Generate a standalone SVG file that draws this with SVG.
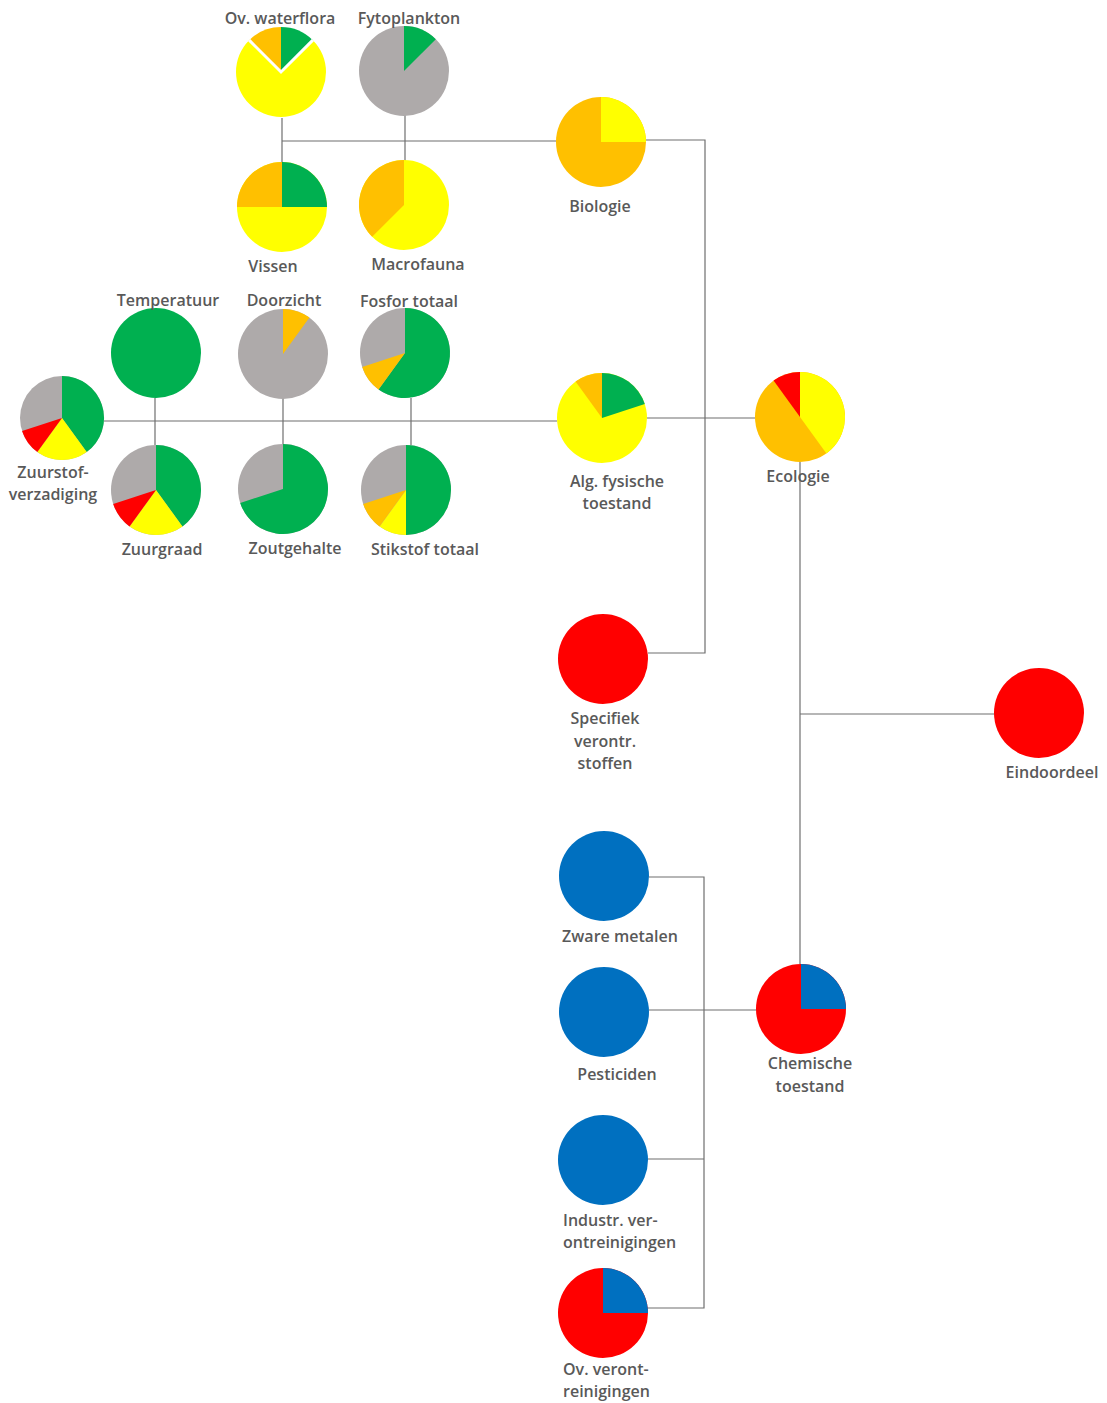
<svg xmlns="http://www.w3.org/2000/svg" width="1107" height="1403" viewBox="0 0 1107 1403">
  <style>
    .lbl { font-family: "Open Sans", "Liberation Sans", sans-serif; font-weight: 600; font-size: 16px; fill: #595959; text-anchor: middle; }
    .left { text-anchor: start; }
    .conn { fill: none; stroke: #6f6f6f; stroke-width: 1.2; }
    .g { fill: #00B050; }
    .y { fill: #FFFF00; }
    .o { fill: #FFC000; }
    .r { fill: #FF0000; }
    .gr { fill: #AEAAAA; }
    .b { fill: #0070C0; }
  </style>
  <rect width="1107" height="1403" fill="#ffffff"/>

  <!-- connectors, drawn under the pies -->
  <g id="connectors" class="conn">
    <path d="M282,118 V162"/>
    <path d="M405,115 V161"/>
    <path d="M282,141 H556"/>
    <path d="M646,140 H705 V653 H648"/>
    <path d="M104,421 H557"/>
    <path d="M155,398 V445"/>
    <path d="M283,398 V445"/>
    <path d="M411,398 V445"/>
    <path d="M647,418 H755"/>
    <path d="M800,462 V964"/>
    <path d="M800,714 H995"/>
    <path d="M649,877 H704 V1308 H647"/>
    <path d="M649,1010 H757"/>
    <path d="M647,1159 H704"/>
  </g>

  <!-- biology -->
  <g id="ov-waterflora">
    <path class="y" d="M281,72 L312.82,40.18 A45,45 0 1 1 249.18,40.18 Z"/>
    <path class="g" d="M281,72 L281,27 A45,45 0 0 1 312.82,40.18 Z"/>
    <path class="o" d="M281,72 L249.18,40.18 A45,45 0 0 1 281,27 Z"/>
    <polyline points="249.18,40.18 281,72 312.82,40.18" fill="none" stroke="#ffffff" stroke-width="3"/>
    <text class="lbl" x="280" y="24">Ov. waterflora</text>
  </g>
  <g id="fytoplankton">
    <circle class="gr" cx="404" cy="71" r="45"/>
    <path class="g" d="M404,71 L404,26 A45,45 0 0 1 435.82,39.18 Z"/>
    <text class="lbl" x="409" y="24">Fytoplankton</text>
  </g>
  <g id="vissen">
    <circle class="y" cx="282" cy="207" r="45"/>
    <path class="g" d="M282,207 L282,162 A45,45 0 0 1 327,207 Z"/>
    <path class="o" d="M282,207 L237,207 A45,45 0 0 1 282,162 Z"/>
    <text class="lbl" x="273" y="272">Vissen</text>
  </g>
  <g id="macrofauna">
    <circle class="y" cx="404" cy="205" r="45"/>
    <path class="o" d="M404,205 L372.18,236.82 A45,45 0 0 1 404,160 Z"/>
    <text class="lbl" x="418" y="270">Macrofauna</text>
  </g>
  <g id="biologie">
    <circle class="o" cx="601" cy="142" r="45"/>
    <path class="y" d="M601,142 L601,97 A45,45 0 0 1 646,142 Z"/>
    <text class="lbl" x="600" y="212">Biologie</text>
  </g>

  <!-- physical-chemical quality -->
  <g id="zuurstofverzadiging">
    <circle class="gr" cx="62" cy="418" r="42"/>
    <path class="g" d="M62,418 L62,376 A42,42 0 0 1 86.69,451.98 Z"/>
    <path class="y" d="M62,418 L86.69,451.98 A42,42 0 0 1 37.31,451.98 Z"/>
    <path class="r" d="M62,418 L37.31,451.98 A42,42 0 0 1 22.05,430.98 Z"/>
    <text class="lbl" x="53" y="478">Zuurstof-</text>
    <text class="lbl" x="53" y="500">verzadiging</text>
  </g>
  <g id="temperatuur">
    <circle class="g" cx="156" cy="353" r="45"/>
    <text class="lbl" x="168" y="306">Temperatuur</text>
  </g>
  <g id="doorzicht">
    <circle class="gr" cx="283" cy="354" r="45"/>
    <path class="o" d="M283,354 L283,309 A45,45 0 0 1 309.45,317.59 Z"/>
    <text class="lbl" x="284" y="306">Doorzicht</text>
  </g>
  <g id="fosfor-totaal">
    <circle class="gr" cx="405" cy="353" r="45"/>
    <path class="g" d="M405,353 L405,308 A45,45 0 1 1 378.55,389.41 Z"/>
    <path class="o" d="M405,353 L378.55,389.41 A45,45 0 0 1 362.2,366.91 Z"/>
    <text class="lbl" x="409" y="307">Fosfor totaal</text>
  </g>
  <g id="zuurgraad">
    <circle class="gr" cx="156" cy="490" r="45"/>
    <path class="g" d="M156,490 L156,445 A45,45 0 0 1 182.45,526.41 Z"/>
    <path class="y" d="M156,490 L182.45,526.41 A45,45 0 0 1 129.55,526.41 Z"/>
    <path class="r" d="M156,490 L129.55,526.41 A45,45 0 0 1 113.2,503.91 Z"/>
    <text class="lbl" x="162" y="555">Zuurgraad</text>
  </g>
  <g id="zoutgehalte">
    <circle class="gr" cx="283" cy="489" r="45"/>
    <path class="g" d="M283,489 L283,444 A45,45 0 1 1 240.2,502.91 Z"/>
    <text class="lbl" x="295" y="554">Zoutgehalte</text>
  </g>
  <g id="stikstof-totaal">
    <circle class="gr" cx="406" cy="490" r="45"/>
    <path class="g" d="M406,490 L406,445 A45,45 0 0 1 406,535 Z"/>
    <path class="y" d="M406,490 L406,535 A45,45 0 0 1 379.55,526.41 Z"/>
    <path class="o" d="M406,490 L379.55,526.41 A45,45 0 0 1 363.2,503.91 Z"/>
    <text class="lbl" x="425" y="555">Stikstof totaal</text>
  </g>
  <g id="alg-fysische-toestand">
    <circle class="y" cx="602" cy="418" r="45"/>
    <path class="g" d="M602,418 L602,373 A45,45 0 0 1 644.8,404.09 Z"/>
    <path class="o" d="M602,418 L575.55,381.59 A45,45 0 0 1 602,373 Z"/>
    <text class="lbl" x="617" y="487">Alg. fysische</text>
    <text class="lbl" x="617" y="509">toestand</text>
  </g>

  <!-- ecology and specific pollutants -->
  <g id="ecologie">
    <circle class="o" cx="800" cy="417" r="45"/>
    <path class="y" d="M800,417 L800,372 A45,45 0 0 1 826.45,453.41 Z"/>
    <path class="r" d="M800,417 L773.55,380.59 A45,45 0 0 1 800,372 Z"/>
    <text class="lbl" x="798" y="482">Ecologie</text>
  </g>
  <g id="specifiek-verontr-stoffen">
    <circle class="r" cx="603" cy="659" r="45"/>
    <text class="lbl" x="605" y="724">Specifiek</text>
    <text class="lbl" x="605" y="747">verontr.</text>
    <text class="lbl" x="605" y="769">stoffen</text>
  </g>
  <g id="eindoordeel">
    <circle class="r" cx="1039" cy="713" r="45"/>
    <text class="lbl" x="1052" y="778">Eindoordeel</text>
  </g>

  <!-- chemical quality -->
  <g id="zware-metalen">
    <circle class="b" cx="604" cy="876" r="45"/>
    <text class="lbl" x="620" y="942">Zware metalen</text>
  </g>
  <g id="pesticiden">
    <circle class="b" cx="604" cy="1012" r="45"/>
    <text class="lbl" x="617" y="1080">Pesticiden</text>
  </g>
  <g id="chemische-toestand">
    <circle class="r" cx="801" cy="1009" r="45"/>
    <path class="b" d="M801,1009 L801,964 A45,45 0 0 1 846,1009 Z"/>
    <text class="lbl" x="810" y="1069">Chemische</text>
    <text class="lbl" x="810" y="1092">toestand</text>
  </g>
  <g id="industr-verontreinigingen">
    <circle class="b" cx="603" cy="1160" r="45"/>
    <text class="lbl left" x="563" y="1226">Industr. ver-</text>
    <text class="lbl left" x="563" y="1248">ontreinigingen</text>
  </g>
  <g id="ov-verontreinigingen">
    <circle class="r" cx="603" cy="1313" r="45"/>
    <path class="b" d="M603,1313 L603,1268 A45,45 0 0 1 648,1313 Z"/>
    <text class="lbl left" x="563" y="1375">Ov. veront-</text>
    <text class="lbl left" x="563" y="1397">reinigingen</text>
  </g>
</svg>
